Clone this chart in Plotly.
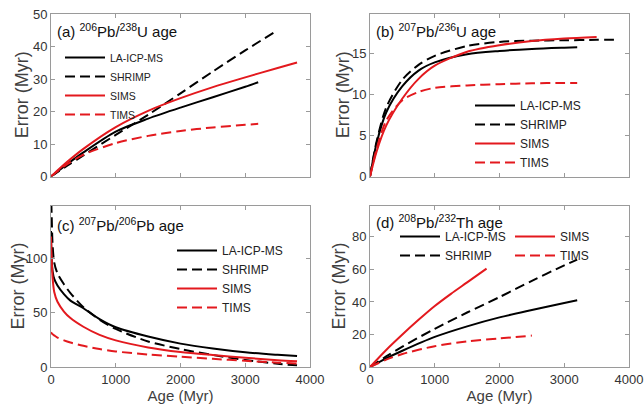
import plotly.graph_objects as go

# ---------------- data ----------------
# (a) 206Pb/238U age
age_a_la = [0, 250, 500, 1000, 1500, 2000, 2500, 3000, 3200]
err_a_la = [0, 3.8, 7.4, 13.8, 17.8, 21.2, 24.4, 27.6, 29.0]
age_a_shrimp = [0, 250, 500, 1000, 1500, 2000, 2500, 3000, 3500]
err_a_shrimp = [0, 3.3, 6.5, 12.8, 19.0, 25.6, 32.3, 38.8, 45.0]
age_a_sims = [0, 250, 500, 1000, 1500, 2000, 2500, 3000, 3500, 3800]
err_a_sims = [0, 4.5, 8.5, 15.2, 20.2, 24.1, 27.5, 30.5, 33.4, 35.1]
age_a_tims = [0, 250, 500, 1000, 1500, 2000, 2500, 3000, 3200]
err_a_tims = [0, 3.8, 6.7, 10.3, 12.5, 14.0, 15.1, 15.9, 16.2]

# (b) 207Pb/235U age
age_b_la = [0, 100, 250, 500, 750, 1000, 1500, 2000, 2500, 3000, 3200]
err_b_la = [0, 4.0, 7.8, 11.0, 12.9, 13.9, 14.9, 15.3, 15.55, 15.7, 15.75]
age_b_shrimp = [0, 100, 250, 500, 750, 1000, 1500, 2000, 2500, 3000, 3500, 3800]
err_b_shrimp = [0, 4.2, 8.4, 11.8, 13.6, 14.7, 15.9, 16.4, 16.55, 16.6, 16.65, 16.65]
age_b_sims = [0, 100, 250, 500, 750, 1000, 1500, 2000, 2500, 3000, 3500]
err_b_sims = [0, 3.0, 6.2, 9.5, 11.9, 13.5, 15.2, 16.0, 16.5, 16.8, 17.0]
age_b_tims = [0, 100, 250, 500, 750, 1000, 1500, 2000, 2500, 3000, 3200]
err_b_tims = [0, 3.3, 6.8, 9.3, 10.3, 10.8, 11.1, 11.25, 11.35, 11.4, 11.4]

# (c) 207Pb/206Pb age
age_c = [0, 10, 25, 50, 100, 200, 300, 500, 750, 1000, 1500, 2000, 2500, 3000, 3500, 3800]
err_c_la = [125, 100, 88, 81, 75, 67, 61, 54, 44, 36.5, 28, 21.5, 17, 13.5, 11.2, 10]
err_c_shrimp = [165, 140, 112, 96, 86, 76, 68, 55, 43.5, 35, 23.5, 16.5, 11, 6.5, 3, 1.5]
err_c_sims = [120, 100, 82, 69, 60, 51, 45, 37, 29.5, 24.5, 18, 13.8, 11, 8.5, 6.2, 5.2]
err_c_tims = [32, 31, 30, 29, 27, 24.5, 22.5, 19.5, 16.5, 14.3, 11.5, 9.5, 7.5, 5.7, 4, 3.2]

# (d) 208Pb/232Th age
age_d_la = [0, 250, 500, 1000, 1500, 2000, 2500, 3000, 3200]
err_d_la = [0, 5.3, 10, 18.5, 25, 30.5, 35, 39.3, 41]
age_d_shrimp = [0, 250, 500, 1000, 1500, 2000, 2500, 3000, 3200]
err_d_shrimp = [0, 6.5, 12.5, 23.5, 33.5, 43, 53, 62.5, 66]
age_d_sims = [0, 250, 500, 750, 1000, 1250, 1500, 1800]
err_d_sims = [0, 10.5, 20, 29, 37.5, 45, 52, 60.5]
age_d_tims = [0, 250, 500, 1000, 1500, 2000, 2500]
err_d_tims = [0, 4.5, 8, 12.8, 15.8, 17.6, 19.3]

x_ticks = [0, 1000, 2000, 3000, 4000]
panel_titles = ["(a) <sup>206</sup>Pb/<sup>238</sup>U age",
                "(b) <sup>207</sup>Pb/<sup>236</sup>U age",
                "(c) <sup>207</sup>Pb/<sup>206</sup>Pb age",
                "(d) <sup>208</sup>Pb/<sup>232</sup>Th age"]
methods = ["LA-ICP-MS", "SHRIMP", "SIMS", "TIMS"]
y_title = "Error (Myr)"
x_title = "Age (Myr)"

# ---------------- styling ----------------
W, H = 644, 409
FONT = "Liberation Sans, Arial, Helvetica, sans-serif"
BLACK = "#000000"
RED = "#e3191e"
DASH = "10px,5px"
styles = {
    "LA-ICP-MS": dict(color=BLACK, dash="solid"),
    "SHRIMP": dict(color=BLACK, dash=DASH),
    "SIMS": dict(color=RED, dash="solid"),
    "TIMS": dict(color=RED, dash=DASH),
}

def px_x(p):
    return p / W

def px_y(p):
    return 1 - p / H

fig = go.Figure()

panels = [
    ("x", "y",
     [(age_a_la, err_a_la), (age_a_shrimp, err_a_shrimp), (age_a_sims, err_a_sims), (age_a_tims, err_a_tims)],
     ["legend", "legend", "legend", "legend"]),
    ("x2", "y2",
     [(age_b_la, err_b_la), (age_b_shrimp, err_b_shrimp), (age_b_sims, err_b_sims), (age_b_tims, err_b_tims)],
     ["legend2", "legend2", "legend2", "legend2"]),
    ("x3", "y3",
     [(age_c, err_c_la), (age_c, err_c_shrimp), (age_c, err_c_sims), (age_c, err_c_tims)],
     ["legend3", "legend3", "legend3", "legend3"]),
    ("x4", "y4",
     [(age_d_la, err_d_la), (age_d_shrimp, err_d_shrimp), (age_d_sims, err_d_sims), (age_d_tims, err_d_tims)],
     ["legend4", "legend4", "legend5", "legend5"]),
]

for xa, ya, series, legs in panels:
    for name, (xs, ys), lg in zip(methods, series, legs):
        st = styles[name]
        fig.add_trace(go.Scatter(
            x=xs, y=ys, mode="lines", name=name, xaxis=xa, yaxis=ya,
            legend=lg,
            line=dict(color=st["color"], dash=st["dash"], width=2,
                      shape="spline", smoothing=0.8),
        ))

# axes geometry in pixels
geo = {
    1: dict(x0=51, x1=310, y0=14, y1=176.5, yr=[0, 50], yt=[0, 10, 20, 30, 40, 50], lab=False, tx=22),
    2: dict(x0=370, x1=629, y0=14, y1=176.5, yr=[0, 19.8], yt=[0, 5, 10, 15], lab=False, tx=343),
    3: dict(x0=51, x1=310, y0=206, y1=367, yr=[0, 148], yt=[0, 50, 100], lab=True, tx=17),
    4: dict(x0=370, x1=629, y0=206, y1=367, yr=[0, 99], yt=[0, 20, 40, 60, 80], lab=True, tx=338),
}

axis_common = dict(
    showline=True, linecolor="#9a9a9a", linewidth=1, mirror="ticks",
    ticks="inside", ticklen=4, tickcolor="#9a9a9a", tickwidth=1,
    showgrid=False, zeroline=False, automargin=False,
    tickfont=dict(family=FONT, size=13, color="#333333"),
)

layout_axes = {}
for i, g in geo.items():
    sx = "" if i == 1 else str(i)
    xa = dict(axis_common, domain=[px_x(g["x0"]), px_x(g["x1"])], range=[0, 4000],
              tickvals=x_ticks, showticklabels=g["lab"], anchor="y" + sx)
    if g["lab"]:
        xa["title"] = dict(text=x_title, font=dict(family=FONT, size=15, color="#404040"), standoff=2)
    ya = dict(axis_common, domain=[px_y(g["y1"]), px_y(g["y0"])], range=g["yr"],
              tickvals=g["yt"], anchor="x" + sx)
    layout_axes["xaxis" + sx] = xa
    layout_axes["yaxis" + sx] = ya
    # y-axis title as rotated text beside the axis
    fig.add_annotation(text=y_title, xref="paper", yref="paper",
                       x=px_x(g["tx"]), y=px_y((g["y0"] + g["y1"]) / 2),
                       xanchor="center", yanchor="middle", textangle=-90, showarrow=False,
                       font=dict(family=FONT, size=18, color="#404040"))

fig.update_layout(**layout_axes)

# panel titles
title_pos = [(55, 31), (374, 31), (55, 224), (374, 221)]
for (tx, ty), t in zip(title_pos, panel_titles):
    fig.add_annotation(text=t, xref="paper", yref="paper", x=px_x(tx), y=px_y(ty),
                       xanchor="left", yanchor="middle", showarrow=False,
                       font=dict(family=FONT, size=15, color="#111111"))

def legend_cfg(left, top, size):
    return dict(x=px_x(left), y=px_y(top), xanchor="left", yanchor="top",
                bgcolor="rgba(0,0,0,0)", borderwidth=0, itemwidth=40,
                font=dict(family=FONT, size=size, color="#222222"),
                orientation="v", itemclick=False, itemdoubleclick=False)

fig.update_layout(
    width=W, height=H,
    margin=dict(l=0, r=0, t=0, b=0, autoexpand=False),
    paper_bgcolor="white", plot_bgcolor="white",
    showlegend=True,
    legend=legend_cfg(60, 43, 10.5),
    legend2=legend_cfg(470, 91, 12),
    legend3=legend_cfg(172, 236, 12),
    legend4=legend_cfg(395, 222, 12),
    legend5=legend_cfg(510, 222, 12),
)

fig.write_html("out.html", config={"displayModeBar": False},
               post_script="document.body.style.margin='0';document.body.style.overflow='hidden';")
